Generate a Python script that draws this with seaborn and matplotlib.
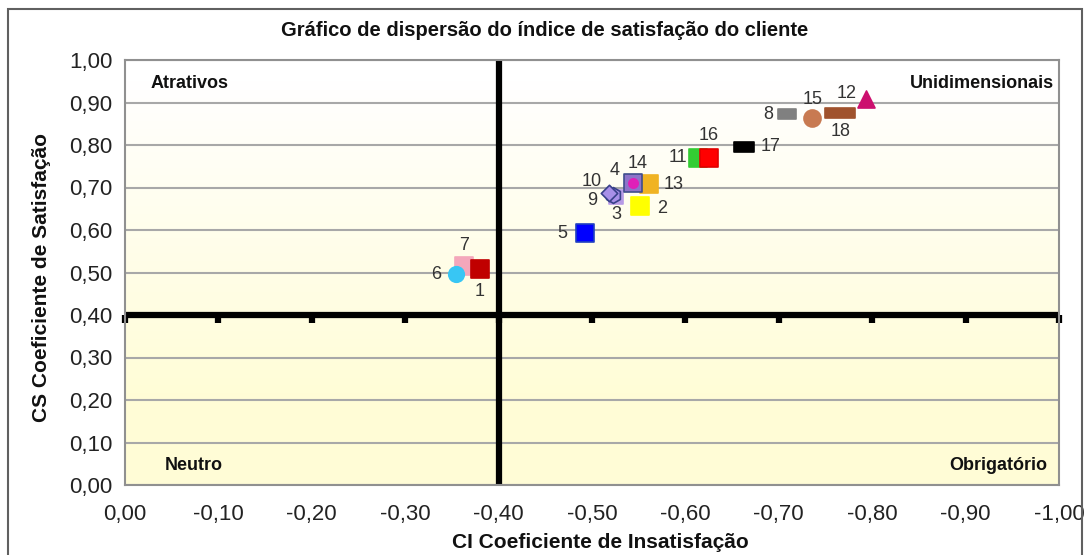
import numpy as np
import matplotlib
matplotlib.use("Agg")
import matplotlib.pyplot as plt
import matplotlib.patches as mpatches
from matplotlib.path import Path
from matplotlib.ticker import FuncFormatter
import seaborn as sns

# ── Data ──────────────────────────────────────────────────────────────────────
items   = ["7", "1", "6", "5", "2", "3", "9", "10", "13", "4", "14",
           "11", "16", "17", "8", "15", "18", "12"]
ci_vals = [-0.363, -0.380, -0.354, -0.492, -0.551, -0.526, -0.523, -0.518, -0.561, -0.544, -0.544,
           -0.613, -0.625, -0.663, -0.709, -0.736, -0.766, -0.793]
cs_vals = [0.515, 0.508, 0.496, 0.592, 0.656, 0.678, 0.682, 0.688, 0.708, 0.711, 0.711,
           0.770, 0.770, 0.796, 0.872, 0.864, 0.875, 0.908]
x_ticks = [0.0, -0.1, -0.2, -0.3, -0.4, -0.5, -0.6, -0.7, -0.8, -0.9, -1.0]
y_ticks = [0.0, 0.1, 0.2, 0.3, 0.4, 0.5, 0.6, 0.7, 0.8, 0.9, 1.0]
quadrants = ["Atrativos", "Unidimensionais", "Neutro", "Obrigatório"]

# ── Styles ────────────────────────────────────────────────────────────────────
dash  = Path([(-1, -0.5), (1, -0.5), (1, 0.5), (-1, 0.5), (-1, -0.5)],
             [Path.MOVETO, Path.LINETO, Path.LINETO, Path.LINETO, Path.CLOSEPOLY])
ldash = Path([(-1, -0.32), (1, -0.32), (1, 0.32), (-1, 0.32), (-1, -0.32)],
             [Path.MOVETO, Path.LINETO, Path.LINETO, Path.LINETO, Path.CLOSEPOLY])

style = {
    "7":  dict(marker="s", color="#f4a7bb", edge="#f4a7bb", s=150),
    "1":  dict(marker="s", color="#c00000", edge="#c00000", s=150),
    "6":  dict(marker="o", color="#38c6f4", edge="#38c6f4", s=125),
    "5":  dict(marker="s", color="#0000ff", edge="#2040c0", s=170),
    "2":  dict(marker="s", color="#ffff00", edge="#ffff00", s=170),
    "3":  dict(marker="s", color="#b79be6", edge="#b79be6", s=110),
    "9":  dict(marker="h", color="#a890e8", edge="#39418a", s=130),
    "10": dict(marker="D", color="#a890e8", edge="#39418a", s=70),
    "13": dict(marker="s", color="#f0b323", edge="#f0b323", s=170),
    "4":  dict(marker="s", color="#8d74c9", edge="#404e8c", s=170),
    "14": dict(marker="o", color="#e020b8", edge="#e020b8", s=45),
    "11": dict(marker="s", color="#33cc33", edge="#33cc33", s=150),
    "16": dict(marker="s", color="#ff0000", edge="#e00000", s=170),
    "17": dict(marker=dash, color="#000000", edge="#000000", s=190),
    "8":  dict(marker=dash, color="#808080", edge="#808080", s=170),
    "15": dict(marker="o", color="#c87a52", edge="#c87a52", s=150),
    "18": dict(marker=ldash, color="#a0522d", edge="#a0522d", s=440),
    "12": dict(marker="^", color="#cc0f6e", edge="#cc0f6e", s=150),
}
# label offsets in points
offsets = {
    "7": (0, 15), "1": (0, -16), "6": (-14, 0), "5": (-16, 0), "2": (16, -2),
    "3": (0, -13), "9": (-15, -4), "10": (-12, 8), "13": (18, 0), "4": (-13, 9),
    "14": (3, 14), "11": (-14, 0), "16": (0, 16), "17": (19, 0), "8": (-14, 0),
    "15": (0, 13), "18": (0, -13), "12": (-14, 4),
}

sns.set_style("white")
plt.rcParams["font.family"] = ["Liberation Sans", "DejaVu Sans"]

fig = plt.figure(figsize=(10.9, 5.55), dpi=100)
ax = fig.add_axes([125 / 1090, 70 / 555, 934 / 1090, 425 / 555])

# background gradient (white top -> pale yellow bottom)
yy = np.linspace(0, 1, 256)[:, None]
t = np.clip((yy - 0.2) / 0.75, 0, 1)
yellow = np.array([1.0, 0.992, 0.84])
white = np.array([1.0, 1.0, 1.0])
grad = yellow * (1 - t[..., None]) + white * t[..., None]
grad = np.repeat(grad, 2, axis=1)
ax.imshow(grad, extent=[0, 1, 0, 1], origin="lower", aspect="auto",
          transform=ax.transAxes, zorder=0)

ax.set_xlim(0, -1)
ax.set_ylim(0, 1)
ax.set_xticks(x_ticks)
ax.set_yticks(y_ticks)
fmt = FuncFormatter(lambda v, p: f"{v:.2f}".replace(".", ",").replace("-0,00", "0,00"))
ax.xaxis.set_major_formatter(fmt)
ax.yaxis.set_major_formatter(fmt)
ax.tick_params(axis="both", length=0, colors="#222222")
ax.tick_params(axis="y", labelsize=16, pad=9)
ax.tick_params(axis="x", labelsize=16, pad=14)
ax.grid(axis="y", color="#a8a8a8", lw=1.5, zorder=1)
ax.grid(axis="x", visible=False)
for sp in ax.spines.values():
    sp.set_color("#909090")
    sp.set_linewidth(1.5)

# quadrant divider lines
ax.axvline(-0.4, color="black", lw=4.5, zorder=2)
ax.axhline(0.4, color="black", lw=4.5, zorder=2)
sec = ax.secondary_xaxis(0.4)
sec.set_xticks(x_ticks)
sec.tick_params(length=6, width=4.5, color="black", labelbottom=False, labeltop=False,
                direction="out")
for sp in sec.spines.values():
    sp.set_visible(False)

# points
for name, xv, yv in zip(items, ci_vals, cs_vals):
    st = style[name]
    sns.scatterplot(x=[xv], y=[yv], marker=st["marker"], color=st["color"], s=st["s"],
                    edgecolor=st["edge"], linewidth=1.2, ax=ax, zorder=3, legend=False)
    ax.annotate(name, (xv, yv), xytext=offsets[name], textcoords="offset points",
                ha="center", va="center", fontsize=13, color="#333333", zorder=4)

ax.set_xlabel("")
ax.set_ylabel("")

ax.text(0.027, 0.944, quadrants[0], transform=ax.transAxes, fontsize=13,
        fontweight="bold", ha="left", va="center", color="#111111")
ax.text(0.995, 0.944, quadrants[1], transform=ax.transAxes, fontsize=13,
        fontweight="bold", ha="right", va="center", color="#111111")
ax.text(0.043, 0.047, quadrants[2], transform=ax.transAxes, fontsize=13,
        fontweight="bold", ha="left", va="center", color="#111111")
ax.text(0.987, 0.047, quadrants[3], transform=ax.transAxes, fontsize=13,
        fontweight="bold", ha="right", va="center", color="#111111")

fig.text(0.5, 1 - 30 / 555, "Gráfico de dispersão do índice de satisfação do cliente",
         ha="center", va="center", fontsize=14.5, fontweight="bold", color="#111111")
fig.text(42 / 1090, 1 - 278 / 555, "CS Coeficiente de Satisfação", rotation=90,
         ha="center", va="center", fontsize=15, fontweight="bold", color="#111111")
fig.text(600 / 1090, 1 - 543 / 555, "CI Coeficiente de Insatisfação",
         ha="center", va="center", fontsize=15, fontweight="bold", color="#111111")

# outer chart border
fig.patches.append(mpatches.Rectangle((8 / 1090, -0.02), 1074 / 1090, 1.02 - 9 / 555,
                                      transform=fig.transFigure, fill=False,
                                      edgecolor="#606060", lw=1.5))

fig.savefig("out.png", dpi=100, facecolor="white")
